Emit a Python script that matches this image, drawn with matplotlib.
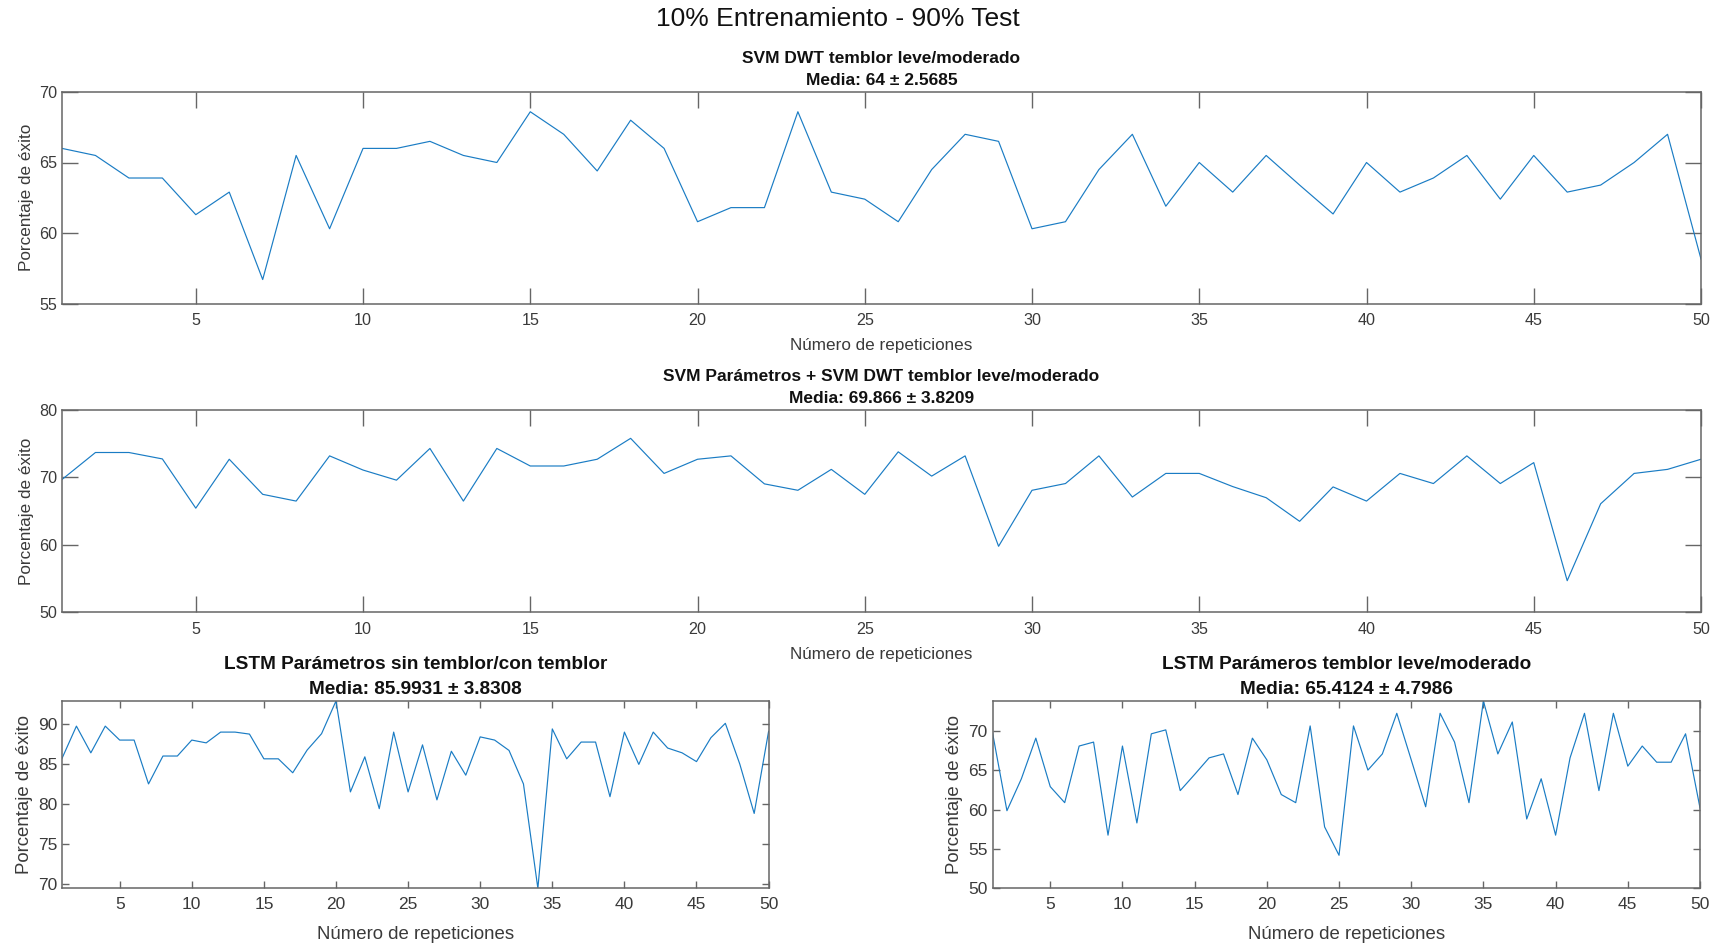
import matplotlib
matplotlib.use("Agg")
import matplotlib.pyplot as plt
from matplotlib import font_manager
import numpy as np

# ---- data -------------------------------------------------------------
repeticiones = list(range(1, 51))

svm_dwt = [66.0, 65.5, 63.9, 63.9, 61.3, 62.9, 56.7, 65.5, 60.3, 66.0,
           66.0, 66.5, 65.5, 65.0, 68.6, 67.0, 64.4, 68.0, 66.0, 60.8,
           61.8, 61.8, 68.6, 62.9, 62.4, 60.8, 64.5, 67.0, 66.5, 60.3,
           60.8, 64.5, 67.0, 61.9, 65.0, 62.9, 65.5, 63.4, 61.35, 65.0,
           62.9, 63.9, 65.5, 62.4, 65.5, 62.9, 63.4, 65.0, 67.0, 58.15]

svm_param_dwt = [69.7, 73.7, 73.7, 72.75, 65.45, 72.7, 67.5, 66.5, 73.2, 71.1,
                 69.6, 74.3, 66.5, 74.3, 71.7, 71.7, 72.7, 75.8, 70.6, 72.7,
                 73.2, 69.05, 68.1, 71.2, 67.5, 73.8, 70.2, 73.2, 59.8, 68.1,
                 69.1, 73.2, 67.1, 70.6, 70.6, 68.65, 67.0, 63.5, 68.6, 66.5,
                 70.6, 69.1, 73.2, 69.1, 72.2, 54.7, 66.1, 70.6, 71.2, 72.7]

lstm_temblor = [85.7, 89.75, 86.4, 89.75, 88.0, 88.0, 82.5, 86.0, 86.0, 88.0,
                87.65, 89.0, 89.0, 88.75, 85.65, 85.65, 83.9, 86.75, 88.8, 92.9,
                81.5, 85.9, 79.4, 89.0, 81.5, 87.4, 80.5, 86.6, 83.6, 88.4,
                88.0, 86.7, 82.5, 69.4, 89.4, 85.65, 87.75, 87.75, 80.9, 89.0,
                84.95, 89.0, 87.0, 86.4, 85.3, 88.3, 90.1, 85.0, 78.8, 89.1]

lstm_leve_mod = [69.75, 59.85, 63.9, 69.05, 62.9, 60.87, 68.05, 68.55, 56.75, 68.05,
                 58.3, 69.6, 70.1, 62.4, 64.45, 66.55, 67.05, 61.9, 69.05, 66.3,
                 61.9, 60.87, 70.6, 57.8, 54.2, 70.6, 65.0, 67.05, 72.2, 66.3,
                 60.35, 72.2, 68.55, 60.87, 73.76, 67.05, 71.1, 58.8, 63.9, 56.75,
                 66.55, 72.2, 62.4, 72.2, 65.5, 68.05, 66.0, 66.0, 69.6, 60.2]

titulo_general = "10% Entrenamiento - 90% Test"
titulos = [
    "SVM DWT temblor leve/moderado\nMedia: 64 \u00b1 2.5685",
    "SVM Par\u00e1metros + SVM DWT temblor leve/moderado\nMedia: 69.866 \u00b1 3.8209",
    "LSTM Par\u00e1metros sin temblor/con temblor\nMedia: 85.9931 \u00b1 3.8308",
    "LSTM Par\u00e1meros temblor leve/moderado\nMedia: 65.4124 \u00b1 4.7986",
]
xlabel = "N\u00famero de repeticiones"
ylabel = "Porcentaje de \u00e9xito"
xticks = [5, 10, 15, 20, 25, 30, 35, 40, 45, 50]
yticks = [[55, 60, 65, 70], [50, 60, 70, 80], [70, 75, 80, 85, 90],
          [50, 55, 60, 65, 70]]

# ---- styling -----------------------------------------------------------
plt.rcParams['font.family'] = ['Liberation Sans', 'DejaVu Sans']

try:
    font_manager.findfont('Liberation Sans Narrow', fallback_to_default=False)
    tick_family = ['Liberation Sans Narrow', 'Liberation Sans']
    narrow = True
except Exception:
    tick_family = ['Liberation Sans', 'DejaVu Sans']
    narrow = False

LINE = '#1a7cc4'
AXC = '#666666'
TXT = '#3a3a3a'

fig = plt.figure(figsize=(17.24, 9.48), dpi=100)
fig.text(0.486, 0.980, titulo_general, ha='center', va='center',
         fontsize=19, color='#111111')

W, H = 1724, 948
def pos(l, r, t, b):
    return [l / W, 1 - b / H, (r - l) / W, (b - t) / H]

axes_pos = [pos(62, 1701, 92, 303.5),
            pos(62, 1701, 410, 612.4),
            pos(62, 768.6, 701, 888.4),
            pos(992.5, 1700, 701, 888.4)]

series = [svm_dwt, svm_param_dwt, lstm_temblor, lstm_leve_mod]
ylims = [(55, 70), (50, 80),
         (min(lstm_temblor), max(lstm_temblor)),
         (50, max(lstm_leve_mod))]

for i, (p, y) in enumerate(zip(axes_pos, series)):
    ax = fig.add_axes(p)
    ax.plot(repeticiones, y, color=LINE, lw=0.85)
    ax.set_xlim(1, 50)
    ax.set_ylim(*ylims[i])
    ax.set_xticks(xticks)
    ax.set_yticks(yticks[i])
    small = i >= 2
    tick_len = 5.0 if small else 11.5
    lab_size = 13.4 if small else 12.3
    if narrow:
        tsize = 14.5 if small else 13.4
    else:
        tsize = 12.5 if small else 11.6
    ax.tick_params(direction='in', length=tick_len, width=1.0, color=AXC,
                   top=True, right=True, labelsize=tsize, labelcolor=TXT)
    ax.tick_params(axis='x', pad=7 if not small else 6)
    ax.tick_params(axis='y', pad=3.5)
    for lbl in ax.get_xticklabels() + ax.get_yticklabels():
        lbl.set_family(tick_family)
    for s in ax.spines.values():
        s.set_color(AXC)
        s.set_linewidth(1.1)
    ax.set_xlabel(xlabel, fontsize=lab_size, color=TXT,
                  labelpad=10 if small else 7)
    ax.set_ylabel(ylabel, fontsize=lab_size, color=TXT, labelpad=3.5)
    ax.set_title(titulos[i], fontsize=13.7 if small else 12.5,
                 fontweight='bold', color='#111111', pad=5, linespacing=1.6)

fig.savefig('out.png', dpi=100)
